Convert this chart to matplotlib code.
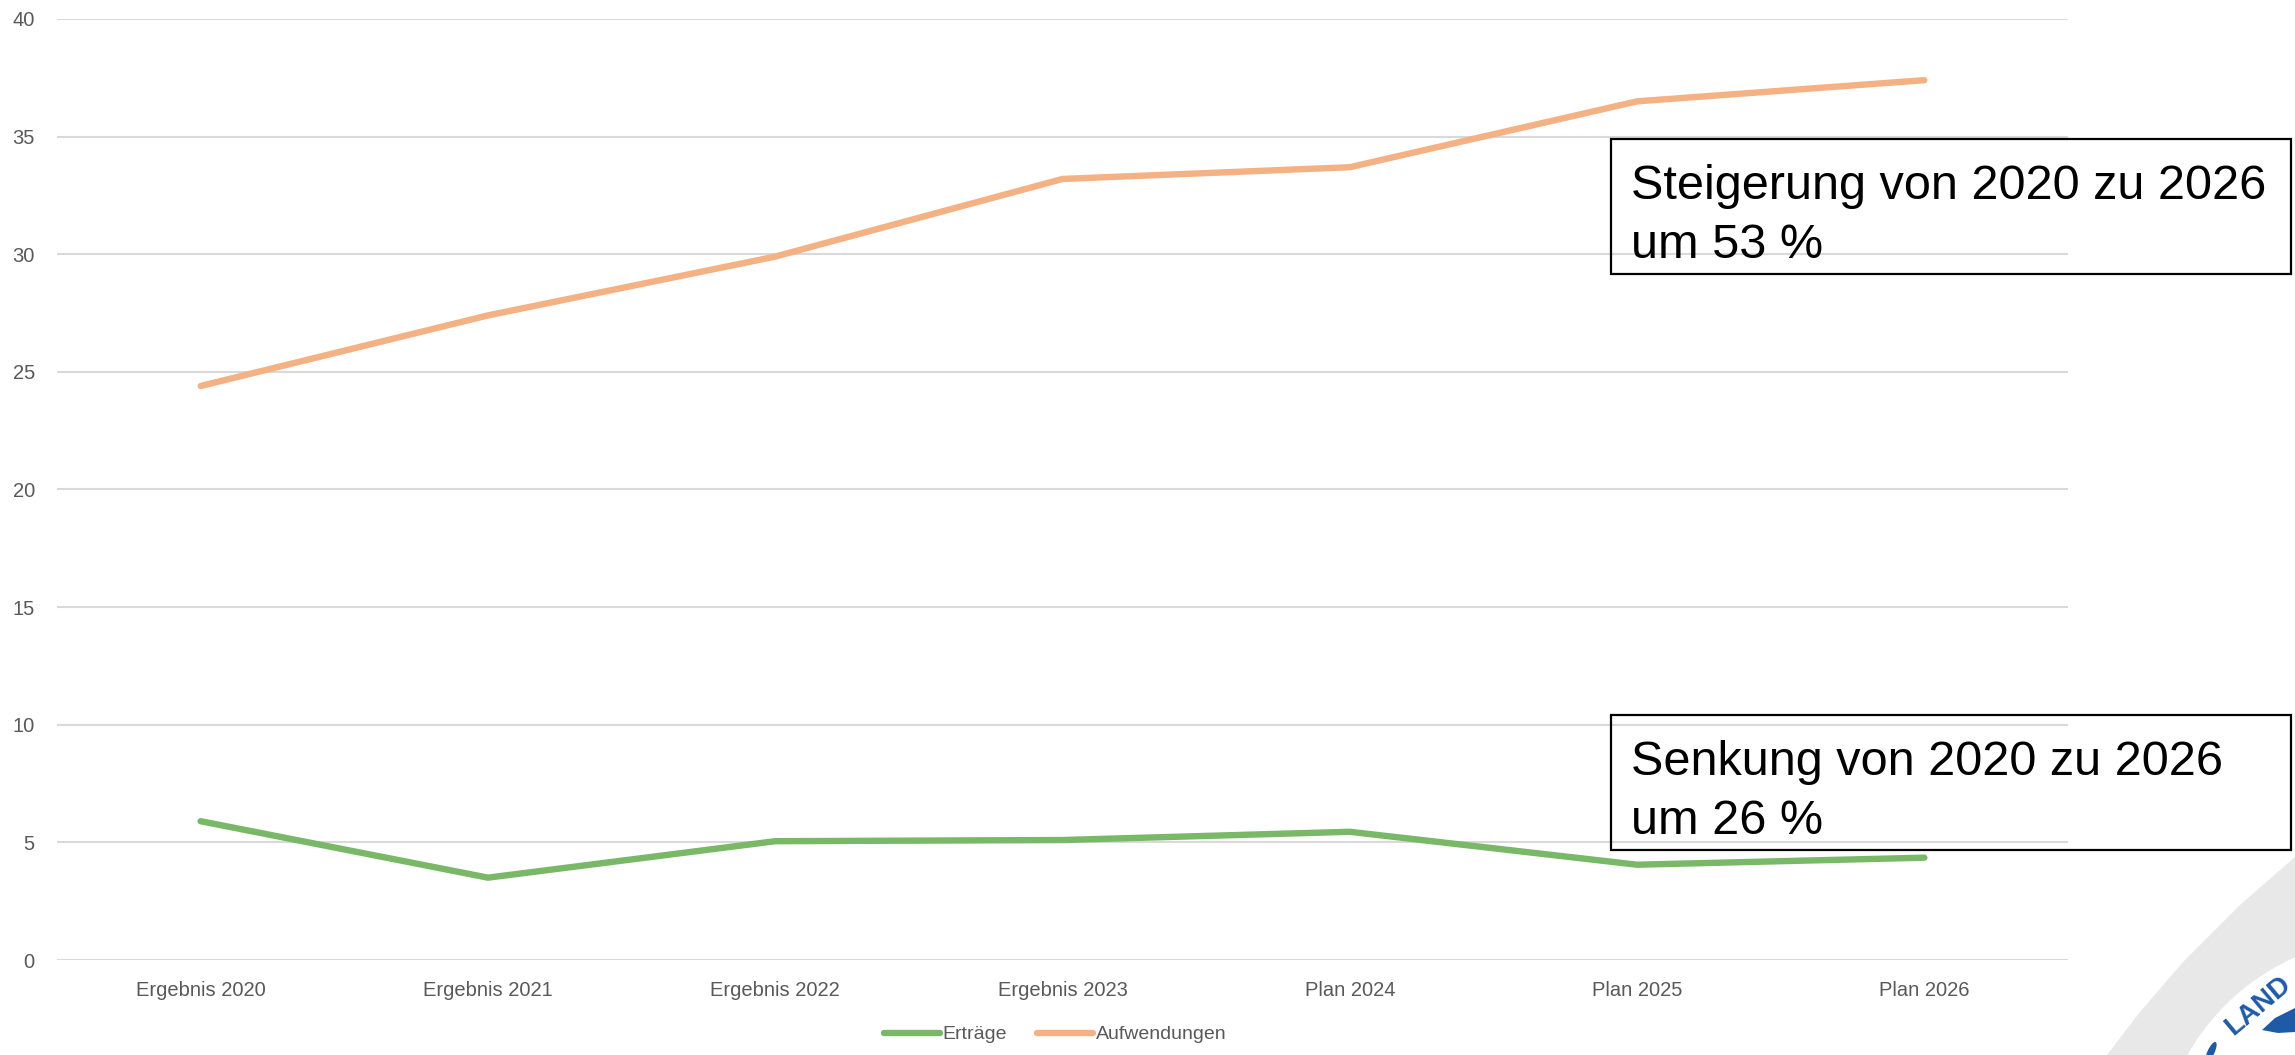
import matplotlib.pyplot as plt
from matplotlib.patches import Rectangle, Circle, Polygon, Ellipse
import numpy as np

W, H = 2295, 1055

categories = ["Ergebnis 2020", "Ergebnis 2021", "Ergebnis 2022", "Ergebnis 2023",
              "Plan 2024", "Plan 2025", "Plan 2026"]
ertraege = [5.9, 3.5, 5.05, 5.1, 5.45, 4.05, 4.35]
aufwendungen = [24.4, 27.4, 29.9, 33.2, 33.7, 36.5, 37.4]

GREEN = "#78b866"
ORANGE = "#f4b183"
GREY_TXT = "#595959"
LOGO_BLUE = "#1f5aa6"

plt.rcParams["font.family"] = ["Liberation Sans", "DejaVu Sans"]


def fx(px):
    return px / W


def fy(py):
    return 1 - py / H


fig = plt.figure(figsize=(W / 100, H / 100), dpi=100, facecolor="white")

# partial logo in the lower right corner (drawn first, behind everything)
logo = fig.add_axes([fx(2050), 0, fx(W) - fx(2050), fy(840)], zorder=0)
logo.set_xlim(2050, W)
logo.set_ylim(H, 840)
logo.axis("off")
logo.add_patch(Polygon([(2295, 857), (2240, 905), (2183, 962), (2140, 1012), (2107, 1055),
                        (2295, 1055)], closed=True, color="#e8e8e8", lw=0))
logo.add_patch(Circle((2390, 1170), 233, color="white", lw=0))
logo.text(2258, 1006, "LAND", color=LOGO_BLUE, fontsize=20, fontweight="bold",
          rotation=40, ha="center", va="center")
logo.add_patch(Polygon([(2262, 1030), (2275, 1018), (2295, 1008), (2295, 1032), (2278, 1033)],
                       closed=True, color=LOGO_BLUE, lw=0))
logo.add_patch(Ellipse((2211, 1052), 7, 22, angle=25, color=LOGO_BLUE, lw=0))

ax = fig.add_axes([fx(57), fy(960), fx(2068) - fx(57), fy(19) - fy(960)], zorder=1)
ax.patch.set_alpha(0)

x = np.arange(len(categories))
ax.plot(x, ertraege, color=GREEN, lw=4.6, solid_capstyle="round", label="Erträge")
ax.plot(x, aufwendungen, color=ORANGE, lw=4.6, solid_capstyle="round", label="Aufwendungen")

ax.set_xlim(-0.5, len(categories) - 0.5)
ax.set_ylim(0, 40)
ax.set_yticks(np.arange(0, 41, 5))
ax.set_xticks(x, categories)
ax.tick_params(axis="both", length=0, labelsize=14.5, labelcolor=GREY_TXT)
ax.tick_params(axis="x", pad=15)
ax.tick_params(axis="y", pad=16)
ax.grid(axis="y", color="#d9d9d9", lw=1.5)
ax.set_axisbelow(True)
for s in ax.spines.values():
    s.set_visible(False)

fig.legend(loc="lower center", bbox_to_anchor=(fx(1055), 0.0), ncol=2, frameon=False,
           fontsize=14, labelcolor=GREY_TXT, handlelength=2.9, handletextpad=0.15,
           columnspacing=1.5, borderaxespad=0.2)

# annotation boxes
for top, lines in [(139, ["Steigerung von 2020 zu 2026", "um 53 %"]),
                   (715, ["Senkung von 2020 zu 2026", "um 26 %"])]:
    fig.patches.append(Rectangle((fx(1611), fy(top + 135)), fx(2291) - fx(1611), 135 / H,
                                 transform=fig.transFigure, fill=False, edgecolor="black",
                                 lw=1.6, zorder=3))
    fig.text(fx(1631), fy(top + 60), lines[0], fontsize=35, color="black", va="baseline",
             zorder=3)
    fig.text(fx(1631), fy(top + 119), lines[1], fontsize=35, color="black", va="baseline",
             zorder=3)

fig.savefig("out.png", dpi=100, facecolor="white")
